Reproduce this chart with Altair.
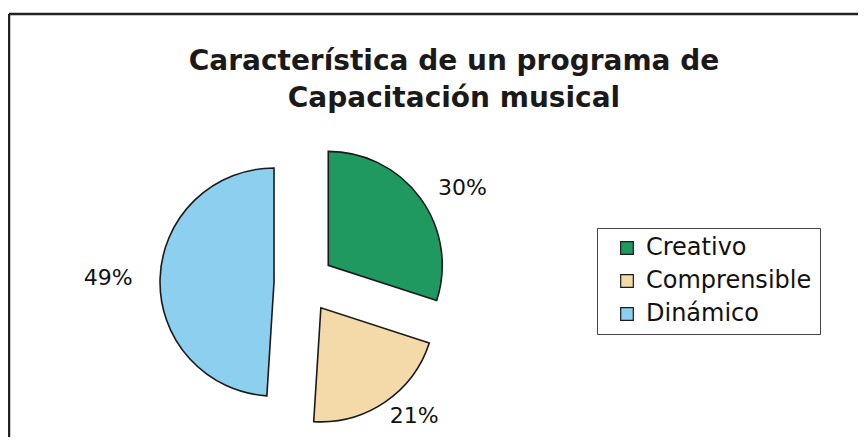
import altair as alt
import pandas as pd

categories = ["Creativo", "Comprensible", "Dinámico"]
values = [30, 21, 49]
labels = ["30%", "21%", "49%"]
colors = ["#1f9960", "#f4d9a9", "#8dcfee"]

df = pd.DataFrame({"cat": categories, "value": values, "label": labels})

FONT = "DejaVu Sans"
CX, CY = 296, 275      # pie centre (plot coords)
EXPLODE = 30           # explosion distance
R = 114                # pie radius
LRX, LRY = 166, 131    # label radii

base = alt.Chart(df).transform_joinaggregate(
    total="sum(value)"
).transform_window(
    cum="sum(value)", frame=[None, 0]
).transform_calculate(
    start="(datum.cum - datum.value) / datum.total * 2 * PI",
    end="datum.cum / datum.total * 2 * PI",
).transform_calculate(
    mid="(datum.start + datum.end) / 2"
).transform_calculate(
    cx=f"{CX} + {EXPLODE} * sin(datum.mid)",
    cy=f"{CY} - {EXPLODE} * cos(datum.mid)",
).transform_calculate(
    lx=f"datum.cx + {LRX} * sin(datum.mid)",
    ly=f"datum.cy - {LRY} * cos(datum.mid)",
)

arcs = base.mark_arc(radius=R, stroke="#1a1a1a", strokeWidth=1.6).encode(
    theta=alt.Theta("start:Q", scale=None),
    theta2="end:Q",
    x=alt.X("cx:Q", scale=None),
    y=alt.Y("cy:Q", scale=None),
    color=alt.Color(
        "cat:N",
        scale=alt.Scale(domain=categories, range=colors),
        legend=alt.Legend(
            title=None,
            orient="none",
            legendX=589,
            legendY=220,
            symbolType="square",
            symbolSize=160,
            symbolStrokeColor="#1a1a1a",
            symbolStrokeWidth=1.2,
            symbolOffset=10,
            labelFont=FONT,
            labelFontSize=24,
            labelLimit=400,
            labelColor="#111",
            labelOffset=7,
            rowPadding=9,
            padding=8,
            strokeColor="#444",
            fillColor="white",
        ),
    ),
)

texts = base.mark_text(font=FONT, fontSize=22, color="#111").encode(
    x=alt.X("lx:Q", scale=None),
    y=alt.Y("ly:Q", scale=None),
    text="label:N",
)

one = alt.Chart(pd.DataFrame({"f": [0]}))
top_rule = one.mark_rule(color="#222", strokeWidth=2.5).encode(
    x=alt.value(1), x2=alt.value(850), y=alt.value(6)
)
left_rule = one.mark_rule(color="#222", strokeWidth=2.5).encode(
    x=alt.value(1), y=alt.value(6), y2=alt.value(429)
)

chart = alt.layer(top_rule, left_rule, arcs, texts).properties(
    width=850,
    height=429,
    padding=0,
    autosize=alt.AutoSizeParams(type="none"),
    title=alt.TitleParams(
        text=["Característica de un programa de", "Capacitación musical"],
        anchor="middle",
        font=FONT,
        fontSize=28,
        fontWeight="bold",
        color="#1a1a1a",
        lineHeight=37,
        baseline="top",
        dx=21,
        dy=109,
    ),
).configure_view(stroke=None)

chart.save("out.html", embed_options={"renderer": "svg", "actions": False})
